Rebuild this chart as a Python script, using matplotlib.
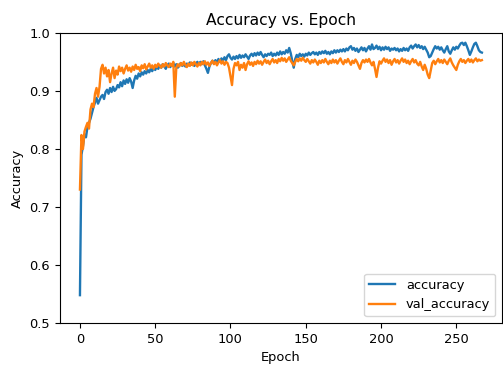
import matplotlib.pyplot as plt

# training accuracy per epoch
accuracy = [
    0.548, 0.790, 0.805, 0.825, 0.820, 0.838, 0.845, 0.852, 0.862, 0.872,
    0.880, 0.888, 0.878, 0.884, 0.890, 0.893, 0.886, 0.898, 0.902, 0.895,
    0.905, 0.898, 0.907, 0.900, 0.903, 0.910, 0.906, 0.915, 0.908, 0.918,
    0.912, 0.920, 0.914, 0.922, 0.916, 0.905, 0.918, 0.926, 0.921, 0.930,
    0.925, 0.932, 0.928, 0.934, 0.930, 0.936, 0.932, 0.938, 0.934, 0.940,
    0.936, 0.942, 0.938, 0.944, 0.940, 0.946, 0.942, 0.938, 0.944, 0.947,
    0.941, 0.945, 0.948, 0.942, 0.946, 0.940, 0.944, 0.948, 0.943, 0.946,
    0.942, 0.947, 0.944, 0.949, 0.945, 0.948, 0.943, 0.947, 0.950, 0.946,
    0.950, 0.946, 0.951, 0.944, 0.938, 0.931, 0.942, 0.948, 0.952, 0.947,
    0.953, 0.949, 0.955, 0.950, 0.956, 0.952, 0.958, 0.953, 0.960, 0.963,
    0.957, 0.954, 0.959, 0.955, 0.960, 0.956, 0.962, 0.957, 0.961, 0.958,
    0.963, 0.959, 0.955, 0.961, 0.964, 0.960, 0.965, 0.961, 0.966, 0.962,
    0.967, 0.962, 0.958, 0.963, 0.960, 0.964, 0.962, 0.966, 0.960, 0.964,
    0.961, 0.966, 0.962, 0.968, 0.963, 0.967, 0.964, 0.970, 0.966, 0.974,
    0.965, 0.952, 0.940, 0.955, 0.962, 0.958, 0.964, 0.960, 0.963, 0.959,
    0.964, 0.961, 0.966, 0.962, 0.965, 0.967, 0.963, 0.966, 0.962, 0.967,
    0.964, 0.968, 0.965, 0.969, 0.964, 0.967, 0.963, 0.968, 0.965, 0.970,
    0.966, 0.970, 0.967, 0.971, 0.968, 0.972, 0.968, 0.973, 0.970, 0.975,
    0.977, 0.971, 0.974, 0.969, 0.973, 0.967, 0.971, 0.975, 0.970, 0.974,
    0.968, 0.973, 0.977, 0.971, 0.980, 0.972, 0.974, 0.978, 0.972, 0.976,
    0.970, 0.975, 0.971, 0.976, 0.972, 0.975, 0.969, 0.973, 0.971, 0.974,
    0.970, 0.973, 0.968, 0.972, 0.969, 0.974, 0.970, 0.973, 0.969, 0.975,
    0.978, 0.973, 0.977, 0.980, 0.975, 0.979, 0.974, 0.977, 0.972, 0.976,
    0.971, 0.966, 0.958, 0.960, 0.966, 0.972, 0.977, 0.973, 0.976, 0.971,
    0.975, 0.970, 0.966, 0.972, 0.977, 0.968, 0.964, 0.970, 0.975, 0.971,
    0.976, 0.973, 0.978, 0.982, 0.983, 0.979, 0.983, 0.977, 0.970, 0.962,
    0.968, 0.975, 0.981, 0.983, 0.977, 0.970, 0.967, 0.966,
]

# validation accuracy per epoch
val_accuracy = [
    0.730, 0.824, 0.800, 0.830, 0.838, 0.845, 0.835, 0.868, 0.878, 0.872,
    0.895, 0.905, 0.890, 0.907, 0.938, 0.945, 0.930, 0.940, 0.925, 0.936,
    0.915, 0.930, 0.940, 0.922, 0.935, 0.928, 0.942, 0.934, 0.940, 0.930,
    0.938, 0.944, 0.935, 0.940, 0.933, 0.942, 0.936, 0.945, 0.938, 0.941,
    0.934, 0.944, 0.939, 0.946, 0.937, 0.942, 0.947, 0.940, 0.944, 0.938,
    0.945, 0.941, 0.947, 0.943, 0.940, 0.946, 0.942, 0.948, 0.944, 0.941,
    0.947, 0.943, 0.950, 0.890, 0.940, 0.946, 0.942, 0.948, 0.944, 0.950,
    0.945, 0.941, 0.947, 0.943, 0.949, 0.944, 0.950, 0.946, 0.942, 0.948,
    0.944, 0.950, 0.946, 0.951, 0.945, 0.949, 0.943, 0.948, 0.952, 0.946,
    0.950, 0.944, 0.949, 0.953, 0.947, 0.951, 0.945, 0.950, 0.948, 0.940,
    0.925, 0.910, 0.938, 0.948, 0.944, 0.950, 0.936, 0.945, 0.940, 0.948,
    0.936, 0.946, 0.951, 0.945, 0.949, 0.943, 0.950, 0.946, 0.952, 0.947,
    0.951, 0.945, 0.950, 0.954, 0.948, 0.952, 0.946, 0.951, 0.955, 0.949,
    0.953, 0.948, 0.955, 0.951, 0.957, 0.952, 0.956, 0.950, 0.954, 0.958,
    0.952, 0.948, 0.944, 0.950, 0.955, 0.951, 0.956, 0.952, 0.957, 0.953,
    0.950, 0.955, 0.951, 0.947, 0.953, 0.949, 0.954, 0.950, 0.945, 0.952,
    0.948, 0.953, 0.949, 0.955, 0.950, 0.946, 0.952, 0.948, 0.954, 0.949,
    0.953, 0.947, 0.952, 0.956, 0.950, 0.946, 0.953, 0.949, 0.955, 0.950,
    0.945, 0.952, 0.948, 0.954, 0.950, 0.944, 0.938, 0.948, 0.953, 0.949,
    0.954, 0.950, 0.955, 0.949, 0.944, 0.950, 0.938, 0.924, 0.940, 0.951,
    0.947, 0.952, 0.956, 0.950, 0.954, 0.948, 0.953, 0.945, 0.951, 0.955,
    0.949, 0.953, 0.947, 0.952, 0.956, 0.950, 0.954, 0.948, 0.952, 0.946,
    0.951, 0.955, 0.949, 0.953, 0.947, 0.944, 0.950, 0.942, 0.936, 0.945,
    0.938, 0.928, 0.922, 0.935, 0.948, 0.952, 0.946, 0.951, 0.955, 0.949,
    0.953, 0.948, 0.954, 0.950, 0.946, 0.952, 0.956, 0.949, 0.944, 0.940,
    0.936, 0.945, 0.951, 0.955, 0.950, 0.953, 0.948, 0.952, 0.955, 0.950,
    0.954, 0.949, 0.953, 0.956, 0.951, 0.954, 0.952, 0.953,
]

plt.rcParams['font.size'] = 9.4
fig = plt.figure(figsize=(5.03, 3.65), dpi=100)
ax = fig.add_axes([0.119, 0.115, 0.879, 0.795])

ax.plot(accuracy, label='accuracy', lw=1.7)
ax.plot(val_accuracy, label='val_accuracy', lw=1.7)
ax.set_ylim(0.5, 1.0)
ax.set_title('Accuracy vs. Epoch', fontsize=11.2)
ax.set_xlabel('Epoch')
ax.set_ylabel('Accuracy')
ax.legend(loc='lower right')

fig.savefig('out.png', dpi=100)
